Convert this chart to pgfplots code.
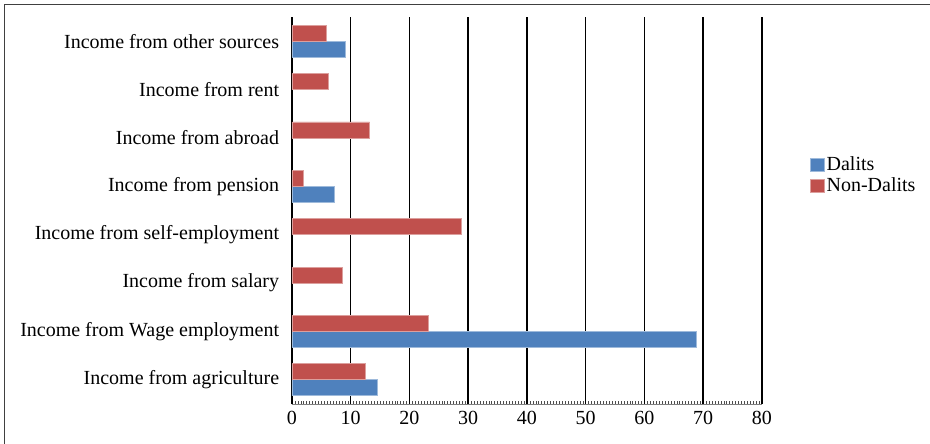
\documentclass[border=0pt]{standalone}
\usepackage{pgfplots}
\pgfplotsset{compat=1.18}
\usepackage{fontspec}
\setmainfont{Liberation Serif}
\definecolor{dalit}{HTML}{4F81BD}
\definecolor{nondalit}{HTML}{C0504D}
\begin{document}
\fontsize{20bp}{24bp}\selectfont
\begin{tikzpicture}
\path[use as bounding box] (-292bp,-40bp) rectangle (638bp,404bp);
\draw[line width=1.5bp, black!75] (-287.5bp,-40bp) -- (-287.5bp,399.5bp) -- (638bp,399.5bp);
\begin{axis}[
  at={(0,0)}, anchor=south west,
  scale only axis, width=470bp, height=387bp,
  xbar,
  xmin=0, xmax=80, ymin=-0.5, ymax=7.5,
  xtick={0,10,...,80},
  minor x tick num=19,
  ytick={0,...,7},
  yticklabels={Income from agriculture, Income from Wage employment, Income from salary, Income from self-employment, Income from pension, Income from abroad, Income from rent, Income from other sources},
  /pgf/number format/assume math mode=true,
  tick label style={font=\fontsize{20bp}{24bp}\selectfont},
  yticklabel style={xshift=-6bp},
  xmajorgrids,
  major grid style={black, line width=1.5bp},
  axis x line*=bottom, axis y line*=left,
  x axis line style={-, gray, line width=1bp},
  y axis line style={-, black, line width=1.2bp},
  tick align=inside,
  major x tick style={draw=none},
  minor x tick style={black!70, line width=0.5bp},
  minor tick length=3bp,
  ytick style={draw=none},
  legend style={draw=none, fill=none, font=\fontsize{20bp}{24bp}\selectfont,
    at={(1.095,0.59)}, anchor=west, row sep=0bp,
    legend cell align=left},
  legend image code/.code={\fill[#1] (0bp,-6bp) rectangle (14bp,7bp);},
]
\addplot[fill=dalit, draw=dalit!55, line width=0.8bp, bar width=0.33, bar shift=-0.165]
  coordinates {(14.5,0) (68.9,1) (7.3,4) (9.1,7)};
\addplot[fill=nondalit, draw=nondalit!55, line width=0.8bp, bar width=0.33, bar shift=0.165]
  coordinates {(12.5,0) (23.2,1) (8.5,2) (28.8,3) (2.0,4) (13.2,5) (6.2,6) (5.8,7)};
\legend{Dalits, Non-Dalits}
\end{axis}
\end{tikzpicture}
\end{document}
